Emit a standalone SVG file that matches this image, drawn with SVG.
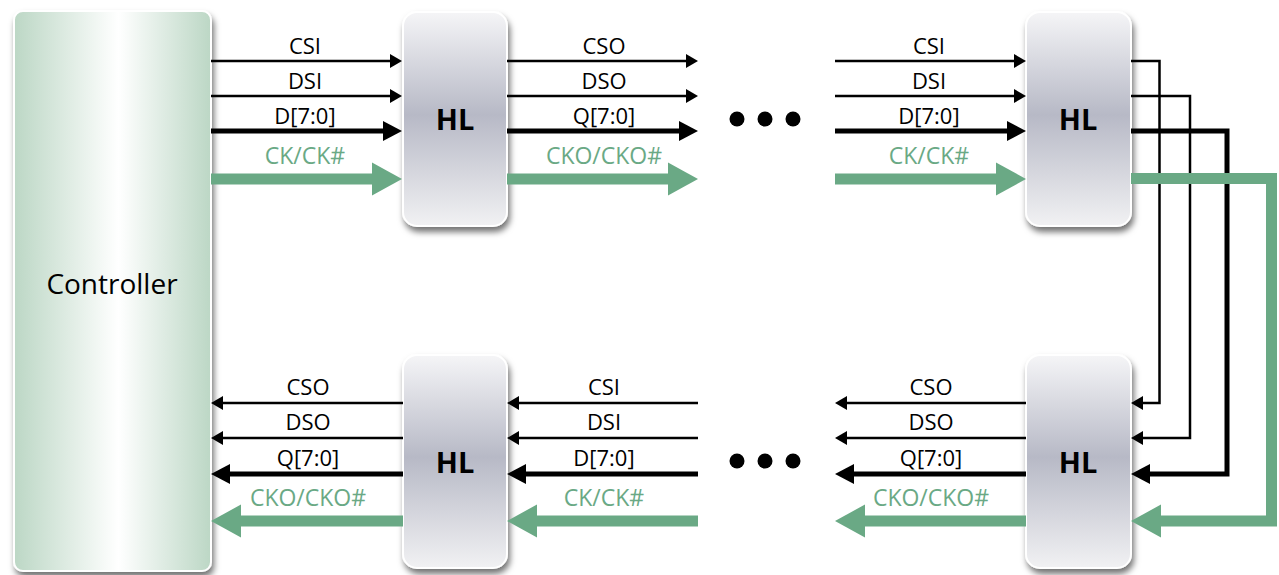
<svg xmlns="http://www.w3.org/2000/svg" width="1279" height="575" viewBox="0 0 1279 575">
<style>
.lbl{font-family:"Open Sans","Liberation Sans",sans-serif;font-size:22px;fill:#000;text-anchor:middle}
.glbl{font-family:"Open Sans","Liberation Sans",sans-serif;font-size:23px;fill:#6aa985;text-anchor:middle}
.hl{font-family:"Open Sans","Liberation Sans",sans-serif;font-size:29px;font-weight:bold;fill:#000;text-anchor:middle}
.ctl{font-family:"Open Sans","Liberation Sans",sans-serif;font-size:28px;fill:#000;text-anchor:middle}
.thin{fill:none;stroke:#000;stroke-width:2.5;marker-end:url(#aThin)}
.thick{fill:none;stroke:#000;stroke-width:5;marker-end:url(#aThick)}
.green{fill:none;stroke:#6aa985;stroke-width:11;marker-end:url(#aGreen)}
.box{fill:url(#hlGrad);stroke:#fff;stroke-width:2;filter:url(#sh)}
.dot{fill:#000}
</style>
<defs>
<linearGradient id="ctlGrad" x1="0" y1="0" x2="1" y2="0">
<stop offset="0" stop-color="#bcd7c5"/>
<stop offset="0.53" stop-color="#ffffff"/>
<stop offset="1" stop-color="#bcd7c5"/>
</linearGradient>
<linearGradient id="hlGrad" x1="0" y1="0" x2="0" y2="1">
<stop offset="0" stop-color="#f5f5f7"/>
<stop offset="0.48" stop-color="#b7b9c6"/>
<stop offset="1" stop-color="#f1f1f3"/>
</linearGradient>
<filter id="sh" x="-20%" y="-10%" width="150%" height="130%">
<feDropShadow dx="2" dy="5" stdDeviation="3" flood-color="#000" flood-opacity="0.55"/>
</filter>
<marker id="aThin" markerUnits="userSpaceOnUse" markerWidth="12" markerHeight="14" refX="0" refY="7" orient="auto" overflow="visible">
<path d="M0,0 L12,7 L0,14 z" fill="#000"/>
</marker>
<marker id="aThick" markerUnits="userSpaceOnUse" markerWidth="19" markerHeight="20" refX="0" refY="10" orient="auto" overflow="visible">
<path d="M0,0 L19,10 L0,20 z" fill="#000"/>
</marker>
<marker id="aGreen" markerUnits="userSpaceOnUse" markerWidth="30" markerHeight="33" refX="0" refY="16.5" orient="auto" overflow="visible">
<path d="M0,0 L30,16.5 L0,33 z" fill="#6aa985"/>
</marker>
</defs>

<g id="controller">
<rect x="14" y="11" width="197" height="560" rx="9" fill="url(#ctlGrad)" stroke="#fff" stroke-width="2" filter="url(#sh)"/>
<text class="ctl" x="112" y="294">Controller</text>
</g>
<g id="hl-top-left">
<rect class="box" x="403" y="12" width="104" height="214" rx="14"/>
<text class="hl" x="455" y="130">HL</text>
</g>
<g id="hl-top-right">
<rect class="box" x="1026" y="12" width="105" height="214" rx="14"/>
<text class="hl" x="1078" y="130">HL</text>
</g>
<g id="hl-bottom-left">
<rect class="box" x="403" y="355" width="104" height="213" rx="14"/>
<text class="hl" x="455" y="473">HL</text>
</g>
<g id="hl-bottom-right">
<rect class="box" x="1026" y="355" width="105" height="213" rx="14"/>
<text class="hl" x="1078" y="473">HL</text>
</g>
<g id="dots-top">
<circle class="dot" cx="737" cy="119" r="7.5"/>
<circle class="dot" cx="765" cy="119" r="7.5"/>
<circle class="dot" cx="793" cy="119" r="7.5"/>
</g>
<g id="dots-bottom">
<circle class="dot" cx="737" cy="461" r="7.5"/>
<circle class="dot" cx="765" cy="461" r="7.5"/>
<circle class="dot" cx="793" cy="461" r="7.5"/>
</g>

<g id="connectors">
<path class="thin" d="M211,61 H390"/>
<path class="thin" d="M211,96 H390"/>
<path class="thick" d="M211,131 H383"/>
<path class="green" d="M211,179 H372"/>
<path class="thin" d="M507,61 H686"/>
<path class="thin" d="M507,96 H686"/>
<path class="thick" d="M507,131 H679"/>
<path class="green" d="M507,179 H668"/>
<path class="thin" d="M835,61 H1014"/>
<path class="thin" d="M835,96 H1014"/>
<path class="thick" d="M835,131 H1007"/>
<path class="green" d="M835,179 H996"/>
<path class="thin" d="M1131,61 H1159.5 V403 H1143"/>
<path class="thin" d="M1131,96 H1190 V438 H1143"/>
<path class="thick" d="M1131,131 H1227 V474 H1150"/>
<path class="green" d="M1131,178.5 H1271.5 V521 H1161"/>
<path class="thin" d="M1026,403 H847"/>
<path class="thin" d="M1026,438 H847"/>
<path class="thick" d="M1026,474 H854"/>
<path class="green" d="M1026,521 H865"/>
<path class="thin" d="M698,403 H519"/>
<path class="thin" d="M698,438 H519"/>
<path class="thick" d="M698,474 H526"/>
<path class="green" d="M698,521 H537"/>
<path class="thin" d="M403,403 H223"/>
<path class="thin" d="M403,438 H223"/>
<path class="thick" d="M403,474 H230"/>
<path class="green" d="M403,521 H241"/>
</g>

<g id="labels">
<text class="lbl" x="305" y="54">CSI</text>
<text class="lbl" x="305" y="89">DSI</text>
<text class="lbl" x="305" y="124">D[7:0]</text>
<text class="glbl" x="305" y="164">CK/CK#</text>

<text class="lbl" x="604" y="54">CSO</text>
<text class="lbl" x="604" y="89">DSO</text>
<text class="lbl" x="604" y="124">Q[7:0]</text>
<text class="glbl" x="604" y="164">CKO/CKO#</text>

<text class="lbl" x="929" y="54">CSI</text>
<text class="lbl" x="929" y="89">DSI</text>
<text class="lbl" x="929" y="124">D[7:0]</text>
<text class="glbl" x="929" y="164">CK/CK#</text>

<text class="lbl" x="308" y="395">CSO</text>
<text class="lbl" x="308" y="430">DSO</text>
<text class="lbl" x="308" y="466">Q[7:0]</text>
<text class="glbl" x="308" y="506">CKO/CKO#</text>

<text class="lbl" x="604" y="395">CSI</text>
<text class="lbl" x="604" y="430">DSI</text>
<text class="lbl" x="604" y="466">D[7:0]</text>
<text class="glbl" x="604" y="506">CK/CK#</text>

<text class="lbl" x="931" y="395">CSO</text>
<text class="lbl" x="931" y="430">DSO</text>
<text class="lbl" x="931" y="466">Q[7:0]</text>
<text class="glbl" x="931" y="506">CKO/CKO#</text>
</g>
</svg>
